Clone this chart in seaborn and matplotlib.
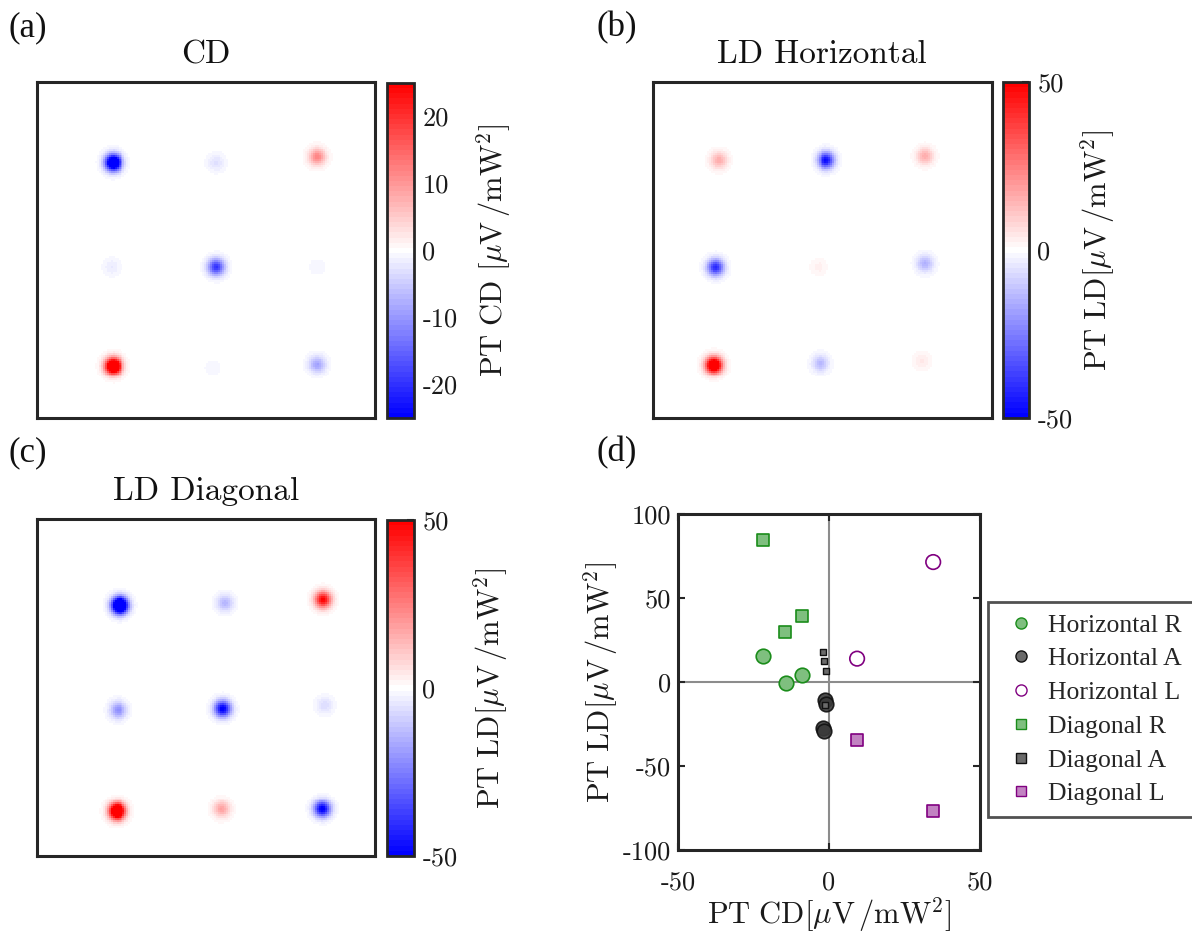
import numpy as np
import pandas as pd
import matplotlib
matplotlib.use("Agg")
import matplotlib.pyplot as plt
import seaborn as sns
from matplotlib.colors import LinearSegmentedColormap
from matplotlib.lines import Line2D

# ---------------- data ----------------
# spot maps: spot centre (fraction of field, x from left, y from top) and peak value
cd_x = [0.225, 0.53, 0.83, 0.22, 0.53, 0.83, 0.225, 0.52, 0.83]
cd_y = [0.24, 0.24, 0.223, 0.55, 0.55, 0.55, 0.845, 0.85, 0.84]
cd_amp = [-38, -3, 12, -2, -20, -1, 42, -1, -9]

ldh_x = [0.194, 0.511, 0.803, 0.184, 0.489, 0.803, 0.179, 0.494, 0.794]
ldh_y = [0.233, 0.233, 0.221, 0.551, 0.55, 0.54, 0.842, 0.837, 0.83]
ldh_amp = [16, -48, 16, -42, 3, -15, 75, -14, 4]

ldd_x = [0.245, 0.556, 0.847, 0.24, 0.549, 0.852, 0.237, 0.546, 0.845]
ldd_y = [0.257, 0.25, 0.24, 0.568, 0.564, 0.554, 0.868, 0.861, 0.861]
ldd_amp = [-95, -14, 50, -22, -52, -7, 85, 18, -52]

# scatter data (PT CD, PT LD)
hor_R_x = [-21.9, -14.4, -8.8]
hor_R_y = [15.7, -0.6, 4.2]
hor_A_x = [-1.3, -1.0, -2.0, -1.5]
hor_A_y = [-11.0, -13.0, -27.5, -29.0]
hor_L_x = [34.5, 9.3]
hor_L_y = [71.4, 13.9]
dia_R_x = [-21.9, -14.5, -8.8]
dia_R_y = [84.5, 30.0, 39.4]
dia_A_x = [-2.0, -1.5, -0.9, -1.2]
dia_A_y = [17.7, 12.5, 6.4, -13.9]
dia_L_x = [9.3, 34.5]
dia_L_y = [-34.4, -77.0]

cd_ticks = [-20, -10, 0, 10, 20]
ld_ticks = [-50, 0, 50]
sc_xticks = [-50, 0, 50]
sc_yticks = [-100, -50, 0, 50, 100]

# ---------------- style ----------------
sns.set_theme(style="white")
plt.rcParams["font.family"] = ["cmr10", "DejaVu Sans"]
plt.rcParams["mathtext.fontset"] = "cm"
plt.rcParams["axes.unicode_minus"] = False
plt.rcParams["axes.formatter.use_mathtext"] = True

W, H = 1192, 936
fig = plt.figure(figsize=(W / 100, H / 100), dpi=100)


def box(l, r, t, b):
    return [l / W, 1 - b / H, (r - l) / W, (b - t) / H]


DARK = "#262626"
TXT = "#1a1a1a"
cmap = LinearSegmentedColormap.from_list("bwr65", ["#0000ff", "#ffffff", "#ff0000"], N=65)
N = 170
g = (np.arange(N) + 0.5) / N
GX, GY = np.meshgrid(g, g)


def make_map(xs, ys, amps, sig=0.017):
    img = np.zeros((N, N))
    for x0, y0, a in zip(xs, ys, amps):
        img += a * np.exp(-((GX - x0) ** 2 + (GY - y0) ** 2) / (2 * sig ** 2))
    return pd.DataFrame(img)


def draw_map(axbox, cbox, xs, ys, amps, vlim, ticks, label, labelpad):
    ax = fig.add_axes(box(*axbox))
    cax = fig.add_axes(box(*cbox))
    sns.heatmap(make_map(xs, ys, amps), ax=ax, cmap=cmap, vmin=-vlim, vmax=vlim,
                cbar_ax=cax, xticklabels=False, yticklabels=False)
    for s in ax.spines.values():
        s.set_visible(True)
        s.set_linewidth(2.2)
        s.set_color(DARK)
    ax.tick_params(left=False, bottom=False)
    cb = ax.collections[0].colorbar
    cb.outline.set_linewidth(2.0)
    cb.outline.set_edgecolor(DARK)
    cb.set_ticks(ticks)
    cb.set_ticklabels([str(t) for t in ticks])
    cax.tick_params(axis="y", direction="in", length=5, width=1.5, color=DARK,
                    labelsize=19, pad=6, right=True, labelcolor=TXT)
    cb.set_label(label, fontsize=22, labelpad=labelpad, color=TXT)
    return ax


draw_map((37, 375, 82, 418), (387, 414, 83, 418), cd_x, cd_y, cd_amp, 25, cd_ticks,
         r"$\mathrm{PT\ CD}\ [\mu\mathrm{V}\,/\mathrm{mW}^2]$", 12)
draw_map((653, 992, 82, 418), (1003, 1029, 82, 418), ldh_x, ldh_y, ldh_amp, 50, ld_ticks,
         r"$\mathrm{PT\ LD}[\mu\mathrm{V}\,/\mathrm{mW}^2]$", 4)
draw_map((37, 375, 519, 856), (387, 414, 520, 856), ldd_x, ldd_y, ldd_amp, 50, ld_ticks,
         r"$\mathrm{PT\ LD}[\mu\mathrm{V}\,/\mathrm{mW}^2]$", 10)

# titles and panel labels
fig.text(206 / W, 1 - 63 / H, "CD", fontsize=24, ha="center", va="baseline", color="#111")
fig.text(822 / W, 1 - 63 / H, "LD Horizontal", fontsize=24, ha="center", va="baseline", color="#111")
fig.text(206 / W, 1 - 500 / H, "LD Diagonal", fontsize=24, ha="center", va="baseline", color="#111")
for lab, x, y in [("(a)", 8, 36), ("(b)", 597, 36), ("(c)", 8, 461), ("(d)", 597, 461)]:
    fig.text(x / W, 1 - y / H, lab, fontsize=25, ha="left", va="baseline",
             family="Liberation Serif", color="#111")

# ---------------- scatter panel ----------------
axd = fig.add_axes(box(678, 980, 514, 850))
axd.axhline(0, color="#8c8c8c", lw=1.5, zorder=0)
axd.axvline(0, color="#8c8c8c", lw=1.5, zorder=0)

groups = [
    ("Horizontal R", hor_R_x, hor_R_y, dict(marker="o", s=110, color="#7fbf7f", edgecolor="#1a8c1a", linewidth=1.2)),
    ("Horizontal A", hor_A_x, hor_A_y, dict(marker="o", s=110, color="#3a3a3a", edgecolor="#111111", linewidth=1.2, alpha=0.9)),
    ("Horizontal L", hor_L_x, hor_L_y, dict(marker="o", s=110, color="none", edgecolor="#800080", linewidth=1.2)),
    ("Diagonal R", dia_R_x, dia_R_y, dict(marker="s", s=85, color="#7fbf7f", edgecolor="#1a8c1a", linewidth=1.2)),
    ("Diagonal A", dia_A_x, dia_A_y, dict(marker="s", s=24, color="#6a6a6a", edgecolor="#111111", linewidth=1.0)),
    ("Diagonal L", dia_L_x, dia_L_y, dict(marker="s", s=85, color="#c283c2", edgecolor="#800080", linewidth=1.2)),
]
for name, xs, ys, kw in groups:
    df = pd.DataFrame({"PT CD": xs, "PT LD": ys})
    sns.scatterplot(data=df, x="PT CD", y="PT LD", ax=axd, legend=False, zorder=3, **kw)

axd.set_xlim(-50, 50)
axd.set_ylim(-100, 100)
axd.set_xticks(sc_xticks)
axd.set_xticklabels([str(t) for t in sc_xticks])
axd.set_yticks(sc_yticks)
axd.set_yticklabels([str(t) for t in sc_yticks])
axd.tick_params(direction="in", length=5, width=1.5, color=DARK, labelsize=19,
                top=True, right=True, bottom=True, left=True, pad=5, labelcolor=TXT)
axd.tick_params(axis="x", pad=15)
for s in axd.spines.values():
    s.set_visible(True)
    s.set_linewidth(2.2)
    s.set_color(DARK)
axd.set_xlabel(r"$\mathrm{PT\ CD}[\mu\mathrm{V}\,/\mathrm{mW}^2]$", fontsize=22, labelpad=0, color=TXT)
axd.set_ylabel(r"$\mathrm{PT\ LD}[\mu\mathrm{V}\,/\mathrm{mW}^2]$", fontsize=22, labelpad=2, color=TXT)

handles = [
    Line2D([], [], ls="none", marker="o", ms=8, mfc="#7fbf7f", mec="#1a8c1a"),
    Line2D([], [], ls="none", marker="o", ms=8, mfc="#6a6a6a", mec="#111111"),
    Line2D([], [], ls="none", marker="o", ms=8, mfc="none", mec="#800080"),
    Line2D([], [], ls="none", marker="s", ms=6.5, mfc="#7fbf7f", mec="#1a8c1a"),
    Line2D([], [], ls="none", marker="s", ms=6.5, mfc="#6a6a6a", mec="#111111"),
    Line2D([], [], ls="none", marker="s", ms=6.5, mfc="#c283c2", mec="#800080"),
]
labels = [g[0] for g in groups]
x0 = (988 - 678) / 302
y0 = (850 - 602) / 336
leg = axd.legend(handles, labels, loc="upper left", bbox_to_anchor=(x0, y0),
                 prop={"family": "Liberation Serif", "size": 18.5}, frameon=True, fancybox=False,
                 labelspacing=0.42, handletextpad=0.2, borderpad=0.45, handlelength=1.7,
                 borderaxespad=0)
leg.get_frame().set_edgecolor(DARK)
leg.get_frame().set_linewidth(2.0)

fig.savefig("out.png", dpi=100)
